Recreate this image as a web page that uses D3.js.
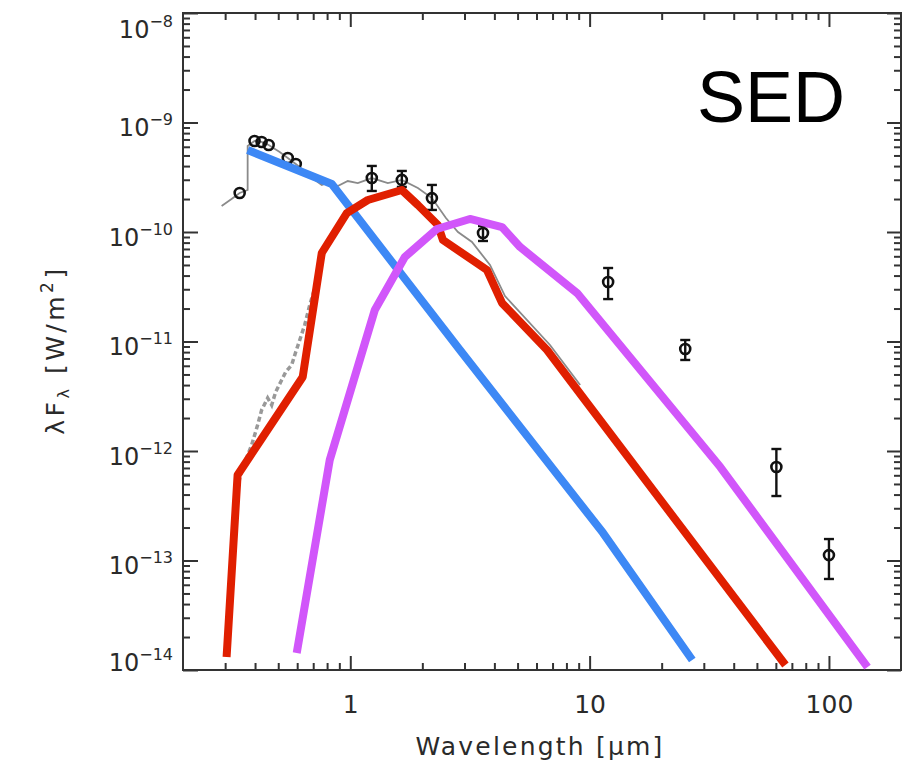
<!DOCTYPE html>
<html>
<head>
<meta charset="utf-8">
<script src="https://cdn.jsdelivr.net/npm/d3@7"></script>
<style>
  body { margin: 0; background: #fff; }
  svg { display: block; }
</style>
</head>
<body>
<svg id="chart" width="921" height="762"></svg>
<script>
// ---- data (wavelength in micron, lambda F_lambda in W/m^2) ----
let blueWl   = [0.3725, 0.837, 2.872, 11.39, 26.85]
let blueFlux = [5.61e-10, 2.74e-10, 8.36e-12, 1.78e-13, 1.234e-14]

let redWl   = [0.3042, 0.3382, 0.6327, 0.760, 0.9669, 1.184, 1.642, 1.916, 2.323, 2.438, 3.725, 4.304, 6.64, 65.8]
let redFlux = [1.315e-14, 6.04e-13, 4.74e-12, 6.43e-11, 1.49e-10, 1.96e-10, 2.42e-10, 1.764e-10, 1.158e-10, 8.45e-11, 4.50e-11, 2.25e-11, 8.36e-12, 1.11e-14]

let purpleWl   = [0.5973, 0.8206, 1.266, 1.690, 2.301, 3.162, 4.304, 5.12, 8.867, 35.16, 144.9]
let purpleFlux = [1.43e-14, 8.28e-13, 1.94e-11, 5.91e-11, 1.065e-10, 1.315e-10, 1.11e-10, 7.30e-11, 2.77e-11, 7.14e-13, 1.065e-14]

// photometry with error bars
let photWl   = [0.345, 0.398, 0.426, 0.456, 0.548, 0.592, 1.23, 1.642, 2.193, 3.585, 11.95, 25.09, 60.3, 100]
let photFlux = [2.27e-10, 6.78e-10, 6.64e-10, 6.23e-10, 4.74e-10, 4.18e-10, 3.11e-10, 2.99e-10, 2.04e-10, 9.79e-11, 3.49e-11, 8.54e-12, 7.14e-13, 1.12e-13]
let photHi   = [2.27e-10, 6.78e-10, 6.64e-10, 6.23e-10, 4.74e-10, 4.18e-10, 4.01e-10, 3.61e-10, 2.69e-10, 1.134e-10, 4.69e-11, 1.032e-11, 1.043e-12, 1.57e-13]
let photLo   = [2.27e-10, 6.78e-10, 6.64e-10, 6.23e-10, 4.74e-10, 4.18e-10, 2.37e-10, 2.58e-10, 1.59e-10, 8.28e-11, 2.44e-11, 6.78e-12, 3.88e-13, 6.78e-14]

// observed spectrum (thin grey)
let obsWl   = [0.29, 0.319, 0.345, 0.3725, 0.3725, 0.398, 0.426, 0.456, 0.507, 0.548, 0.592, 0.651, 0.710, 0.760, 0.821, 0.887, 0.976, 1.075, 1.230, 1.435, 1.642, 1.916, 2.193, 2.51, 2.818, 3.224, 3.835, 4.43, 6.83, 9.13]
let obsFlux = [1.727e-10, 2.00e-10, 2.27e-10, 2.42e-10, 6.10e-10, 6.78e-10, 6.64e-10, 6.23e-10, 5.38e-10, 4.74e-10, 4.18e-10, 3.53e-10, 2.99e-10, 2.69e-10, 2.86e-10, 2.63e-10, 2.92e-10, 2.80e-10, 3.11e-10, 2.80e-10, 2.99e-10, 2.52e-10, 2.04e-10, 1.342e-10, 1.0e-10, 8.10e-11, 5.0e-11, 2.60e-11, 9.29e-12, 4.01e-12]

// reddened model spectrum (grey dashed)
let modelWl   = [0.3102, 0.3162, 0.3225, 0.3319, 0.345, 0.3654, 0.3872, 0.410, 0.4263, 0.4516, 0.4694, 0.4879, 0.5168, 0.5372, 0.569, 0.5916, 0.615, 0.645, 0.677, 0.717, 0.760, 0.790, 0.837]
let modelFlux = [1.523e-14, 4.36e-14, 1.247e-13, 3.21e-13, 5.67e-13, 8.28e-13, 1.134e-12, 1.727e-12, 2.37e-12, 3.05e-12, 2.63e-12, 3.46e-12, 4.45e-12, 5.27e-12, 6.10e-12, 8.02e-12, 1.032e-11, 1.415e-11, 2.15e-11, 3.28e-11, 5.32e-11, 7.61e-11, 9.39e-11]

// ticks
let xMajor = [1, 10, 100]
let xMinor = [0.3, 0.4, 0.5, 0.6, 0.7, 0.8, 0.9, 2, 3, 4, 5, 6, 7, 8, 9, 20, 30, 40, 50, 60, 70, 80, 90]
let yMajor = [1e-14, 1e-13, 1e-12, 1e-11, 1e-10, 1e-9, 1e-8]
let yMinor = []
for (let e = -14; e < -8; e++) {
    for (let m = 2; m <= 9; m++) yMinor.push(m * Math.pow(10, e))
}

let svg = d3.select("#chart")

let plotLeft = 183, plotRight = 901, plotTop = 13, plotBottom = 670

let xScale = d3.scaleLog().domain([0.2, 200]).range([plotLeft, plotRight])
let yScale = d3.scaleLog().domain([1e-14, 1e-8]).range([plotBottom, plotTop])

let axisColor = "#333"
let tickFont = "DejaVu Sans, sans-serif"

// axes (ticks inside the frame)
function addAxis(axis, tx, ty) {
    let g = svg.append("g")
        .attr("transform", `translate(${tx},${ty})`)
        .call(axis)
    g.select(".domain").remove()
    g.selectAll(".tick line").attr("stroke", axisColor).attr("stroke-width", 2)
    return g
}

// bottom
let xAxisMajor = addAxis(d3.axisBottom(xScale).tickValues(xMajor).tickSizeInner(-14).tickSizeOuter(0)
    .tickPadding(25).tickFormat(d3.format("d")), 0, plotBottom)
xAxisMajor.selectAll("text")
    .style("font-family", tickFont).style("font-size", "25px").attr("fill", "#2a2a2a")
addAxis(d3.axisBottom(xScale).tickValues(xMinor).tickSizeInner(-7).tickSizeOuter(0).tickFormat(""), 0, plotBottom)
// top
addAxis(d3.axisTop(xScale).tickValues(xMajor).tickSizeInner(-14).tickSizeOuter(0).tickFormat(""), 0, plotTop)
addAxis(d3.axisTop(xScale).tickValues(xMinor).tickSizeInner(-7).tickSizeOuter(0).tickFormat(""), 0, plotTop)
// left
let yAxisMajor = addAxis(d3.axisLeft(yScale).tickValues(yMajor).tickSizeInner(-15).tickSizeOuter(0).tickPadding(10), plotLeft, 0)
addAxis(d3.axisLeft(yScale).tickValues(yMinor).tickSizeInner(-7).tickSizeOuter(0).tickFormat(""), plotLeft, 0)
// right
addAxis(d3.axisRight(yScale).tickValues(yMajor).tickSizeInner(-14).tickSizeOuter(0).tickFormat(""), plotRight, 0)
addAxis(d3.axisRight(yScale).tickValues(yMinor).tickSizeInner(-7).tickSizeOuter(0).tickFormat(""), plotRight, 0)

// y tick labels as 10^n
yAxisMajor.selectAll(".tick text").each(function (d) {
    let t = d3.select(this)
    let exp = Math.round(Math.log10(d))
    let shift = 13
    if (exp == -8) shift = 24
    if (exp == -14) shift = 0
    t.text(null)
        .attr("dy", null)
        .attr("y", shift)
        .style("font-family", tickFont)
        .style("font-size", "24px")
        .attr("fill", "#2a2a2a")
    t.append("tspan").text("10")
    t.append("tspan").text("\u2212" + Math.abs(exp))
        .style("font-size", "16px")
        .attr("dy", -11)
})

// frame
svg.append("rect")
    .attr("x", plotLeft).attr("y", plotTop)
    .attr("width", plotRight - plotLeft).attr("height", plotBottom - plotTop)
    .attr("fill", "none").attr("stroke", axisColor).attr("stroke-width", 2)

let line = d3.line()
    .x(d => xScale(d[0]))
    .y(d => yScale(d[1]))

// grey spectra
svg.append("path")
    .datum(d3.zip(obsWl, obsFlux))
    .attr("d", line)
    .attr("fill", "none").attr("stroke", "#8a8a8a").attr("stroke-width", 1.8)

svg.append("path")
    .datum(d3.zip(modelWl, modelFlux))
    .attr("d", line)
    .attr("fill", "none").attr("stroke", "#999").attr("stroke-width", 3.5)
    .attr("stroke-dasharray", "5,3")

// photometry
let phot = d3.range(photWl.length).map(i => ({ wl: photWl[i], f: photFlux[i], lo: photLo[i], hi: photHi[i] }))
let pts = svg.append("g").selectAll("g").data(phot).join("g")

pts.filter(d => d.hi > d.lo).append("line")
    .attr("x1", d => xScale(d.wl)).attr("x2", d => xScale(d.wl))
    .attr("y1", d => yScale(d.lo)).attr("y2", d => yScale(d.hi))
    .attr("stroke", "#111").attr("stroke-width", 2.4)
pts.filter(d => d.hi > d.lo).selectAll("line.cap")
    .data(d => [[d.wl, d.lo], [d.wl, d.hi]])
    .join("line").attr("class", "cap")
    .attr("x1", d => xScale(d[0]) - 5).attr("x2", d => xScale(d[0]) + 5)
    .attr("y1", d => yScale(d[1])).attr("y2", d => yScale(d[1]))
    .attr("stroke", "#111").attr("stroke-width", 2.4)
pts.append("circle")
    .attr("cx", d => xScale(d.wl)).attr("cy", d => yScale(d.f))
    .attr("r", 5)
    .attr("fill", "none").attr("stroke", "#111").attr("stroke-width", 2.6)

// model curves
let curves = [
    { wl: blueWl, f: blueFlux, color: "#3d88f5" },
    { wl: redWl, f: redFlux, color: "#e01f00" },
    { wl: purpleWl, f: purpleFlux, color: "#d156fa" }
]
curves.forEach(c => {
    svg.append("path")
        .datum(d3.zip(c.wl, c.f))
        .attr("d", line)
        .attr("fill", "none")
        .attr("stroke", c.color)
        .attr("stroke-width", 8)
        .attr("stroke-linejoin", "round")
})

// axis titles
svg.append("text")
    .attr("x", 540).attr("y", 755)
    .attr("text-anchor", "middle")
    .style("font-family", tickFont).style("font-size", "25px").style("letter-spacing", "2.2px")
    .attr("fill", "#2a2a2a")
    .text("Wavelength [\u03bcm]")

let ytitle = svg.append("text")
    .attr("transform", "translate(64,350) rotate(-90)")
    .attr("text-anchor", "middle")
    .style("font-family", tickFont).style("font-size", "25px").style("letter-spacing", "3.5px")
    .attr("fill", "#2a2a2a")
ytitle.append("tspan").text("\u03bbF")
ytitle.append("tspan").text("\u03bb").style("font-size", "16px").attr("dy", 5)
ytitle.append("tspan").text(" [W/m").attr("dy", -5)
ytitle.append("tspan").text("2").style("font-size", "17px").attr("dy", -11)
ytitle.append("tspan").text("]").attr("dy", 11)

// SED label
svg.append("text")
    .attr("x", 697).attr("y", 122)
    .style("font-family", "Liberation Sans, Arial, sans-serif")
    .style("font-size", "72px")
    .attr("fill", "#000")
    .text("SED")
</script>
</body>
</html>
